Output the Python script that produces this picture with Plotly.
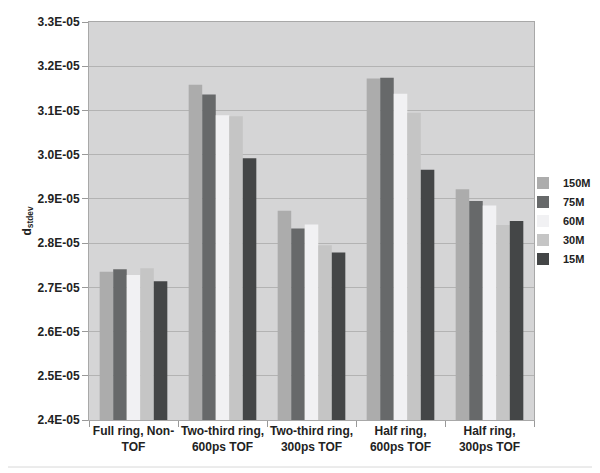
import plotly.graph_objects as go

categories = ["Full ring, Non-<br>TOF", "Two-third ring,<br>600ps TOF", "Two-third ring,<br>300ps TOF",
              "Half ring,<br>600ps TOF", "Half ring,<br>300ps TOF"]
series_names = ["150M", "75M", "60M", "30M", "15M"]
v150 = [2.735e-05, 3.158e-05, 2.873e-05, 3.172e-05, 2.922e-05]
v75 = [2.741e-05, 3.136e-05, 2.833e-05, 3.174e-05, 2.895e-05]
v60 = [2.728e-05, 3.089e-05, 2.842e-05, 3.138e-05, 2.885e-05]
v30 = [2.743e-05, 3.087e-05, 2.795e-05, 3.095e-05, 2.841e-05]
v15 = [2.714e-05, 2.992e-05, 2.779e-05, 2.966e-05, 2.850e-05]
tick_vals = [2.4e-05, 2.5e-05, 2.6e-05, 2.7e-05, 2.8e-05, 2.9e-05, 3.0e-05, 3.1e-05, 3.2e-05, 3.3e-05]
tick_text = ["2.4E-05", "2.5E-05", "2.6E-05", "2.7E-05", "2.8E-05", "2.9E-05", "3.0E-05", "3.1E-05", "3.2E-05", "3.3E-05"]

colors = ["#acacac", "#67696a", "#f1f1f3", "#c5c5c5", "#444647"]
values = [v150, v75, v60, v30, v15]

FONT = "Liberation Sans, Arial, sans-serif"

# page has an 8px body margin; figure is sized so that it fills the 600x473 window
W, H = 592, 465
L, R, T, B = 81, 66, 14, 53
PW, PH = W - L - R, H - T - B

fig = go.Figure()
for name, vals, col in zip(series_names, values, colors):
    fig.add_trace(go.Bar(x=categories, y=vals, name=name, marker=dict(color=col, line=dict(width=0))))

fig.update_layout(
    width=W, height=H,
    barmode="group", bargap=0.24, bargroupgap=0,
    plot_bgcolor="#d5d5d6", paper_bgcolor="white",
    margin=dict(l=L, r=R, t=T, b=B, autoexpand=False),
    font=dict(family=FONT, size=12, color="#222222", weight="bold"),
    legend=dict(x=(PW - 11) / PW, y=0.50, xanchor="left", yanchor="middle",
                font=dict(size=11, family=FONT, color="#222222", weight="bold"),
                itemwidth=30, tracegroupgap=0, bgcolor="rgba(0,0,0,0)"),
    showlegend=True,
)
fig.update_yaxes(range=[2.4e-05, 3.3e-05], tickvals=tick_vals, ticktext=tick_text,
                 showgrid=True, gridcolor="#b3b3b3", gridwidth=1,
                 ticks="outside", ticklen=6, tickcolor="#999999",
                 showline=True, linecolor="#a8a8a8", mirror=True, automargin=False,
                 title=dict(text="d<sub>stdev</sub>", font=dict(size=12, weight="bold"), standoff=3),
                 zeroline=False)
fig.update_xaxes(ticks="outside", ticklen=6, tickcolor="#999999", tickson="boundaries", tickangle=0,
                 showline=True, linecolor="#a8a8a8", mirror=True, showgrid=False, automargin=False)

fig.add_shape(type="rect", xref="paper", yref="paper",
              x0=(-4 - L) / PW, x1=(W - 6 - L) / PW, y0=-(H - 6 - T - PH) / PH, y1=(PH + T + 4) / PH,
              line=dict(color="#d8d8d8", width=1), fillcolor="rgba(0,0,0,0)", layer="below")

fig.write_html("out.html")
